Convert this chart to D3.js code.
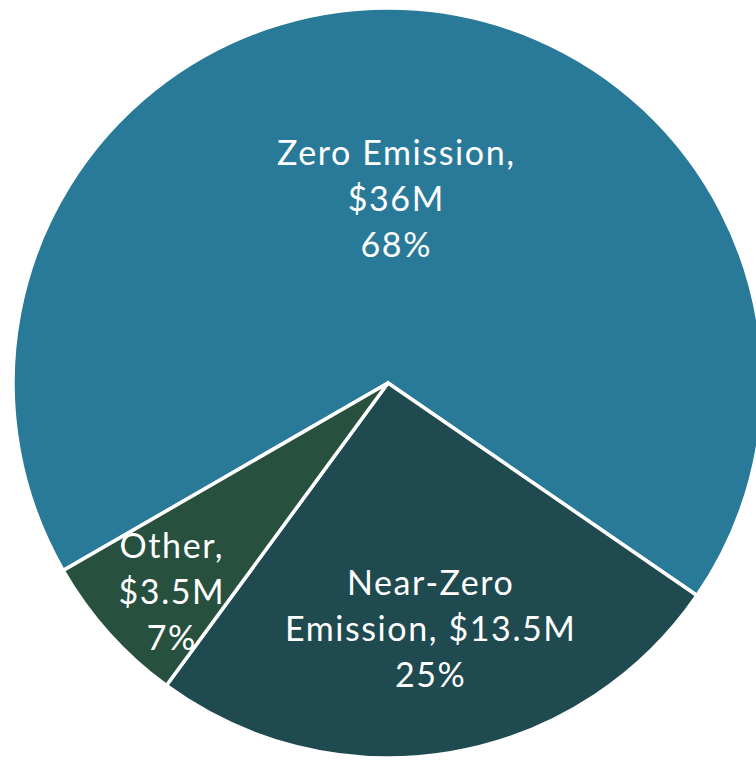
<!DOCTYPE html>
<html>
<head>
<meta charset="utf-8">
<script src="https://cdn.jsdelivr.net/npm/d3@7"></script>
<style>
  html, body { margin: 0; padding: 0; background: #ffffff; }
  svg { display: block; }
</style>
</head>
<body>
<svg id="chart" width="756" height="760"></svg>
<script>
// ---- data ----
const categories = ["Zero Emission", "Near-Zero Emission", "Other"];
const values = [36, 13.5, 3.5];
const amountLabels = ["$36M", "$13.5M", "$3.5M"];
const percentLabels = ["68%", "25%", "7%"];
const labelLines = [
  ["Zero Emission,", "$36M", "68%"],
  ["Near-Zero", "Emission, $13.5M", "25%"],
  ["Other,", "$3.5M", "7%"]
];
const colors = ["#287A98", "#1F4A50", "#27503F"];

// ---- layout ----
const W = 756, H = 760;
const cx = 388, cy = 383, R = 375;
const labelRadiusFrac = [0.49, 0.665, 0.81];
const labelShift = [[1, 0], [1, 0], [10, 6]];
const startDeg = -120;

const svg = d3.select("#chart");
const g = svg.append("g").attr("transform", `translate(${cx},${cy})`);

const pie = d3.pie().sort(null).value(d => d)
  .startAngle(startDeg * Math.PI / 180)
  .endAngle((startDeg + 360) * Math.PI / 180);
const arcs = pie(values);
const arc = d3.arc().innerRadius(0).outerRadius(R);

g.selectAll("path.slice").data(arcs).enter().append("path")
  .attr("class", "slice")
  .attr("d", arc)
  .attr("fill", (d, i) => colors[i])
  .attr("stroke", "#ffffff")
  .attr("stroke-width", 3.5)
  .attr("stroke-linejoin", "miter");

const lineH = 46;
arcs.forEach((a, i) => {
  const lr = R * labelRadiusFrac[i];
  const c0 = d3.arc().innerRadius(lr).outerRadius(lr).centroid(a);
  const c = [c0[0] + labelShift[i][0], c0[1] + labelShift[i][1]];
  const lines = labelLines[i];
  const t = g.append("text")
    .attr("text-anchor", "middle")
    .attr("fill", "#ffffff")
    .attr("font-family", "Lato, 'Open Sans', sans-serif")
    .attr("font-size", 34)
    .attr("letter-spacing", "1.6px")
    .attr("x", c[0])
    .attr("y", c[1]);
  lines.forEach((ln, j) => {
    t.append("tspan")
      .attr("x", c[0])
      .attr("y", c[1] + (j - (lines.length - 1) / 2) * lineH)
      .attr("dy", "0.35em")
      .text(ln);
  });
});
</script>
</body>
</html>
